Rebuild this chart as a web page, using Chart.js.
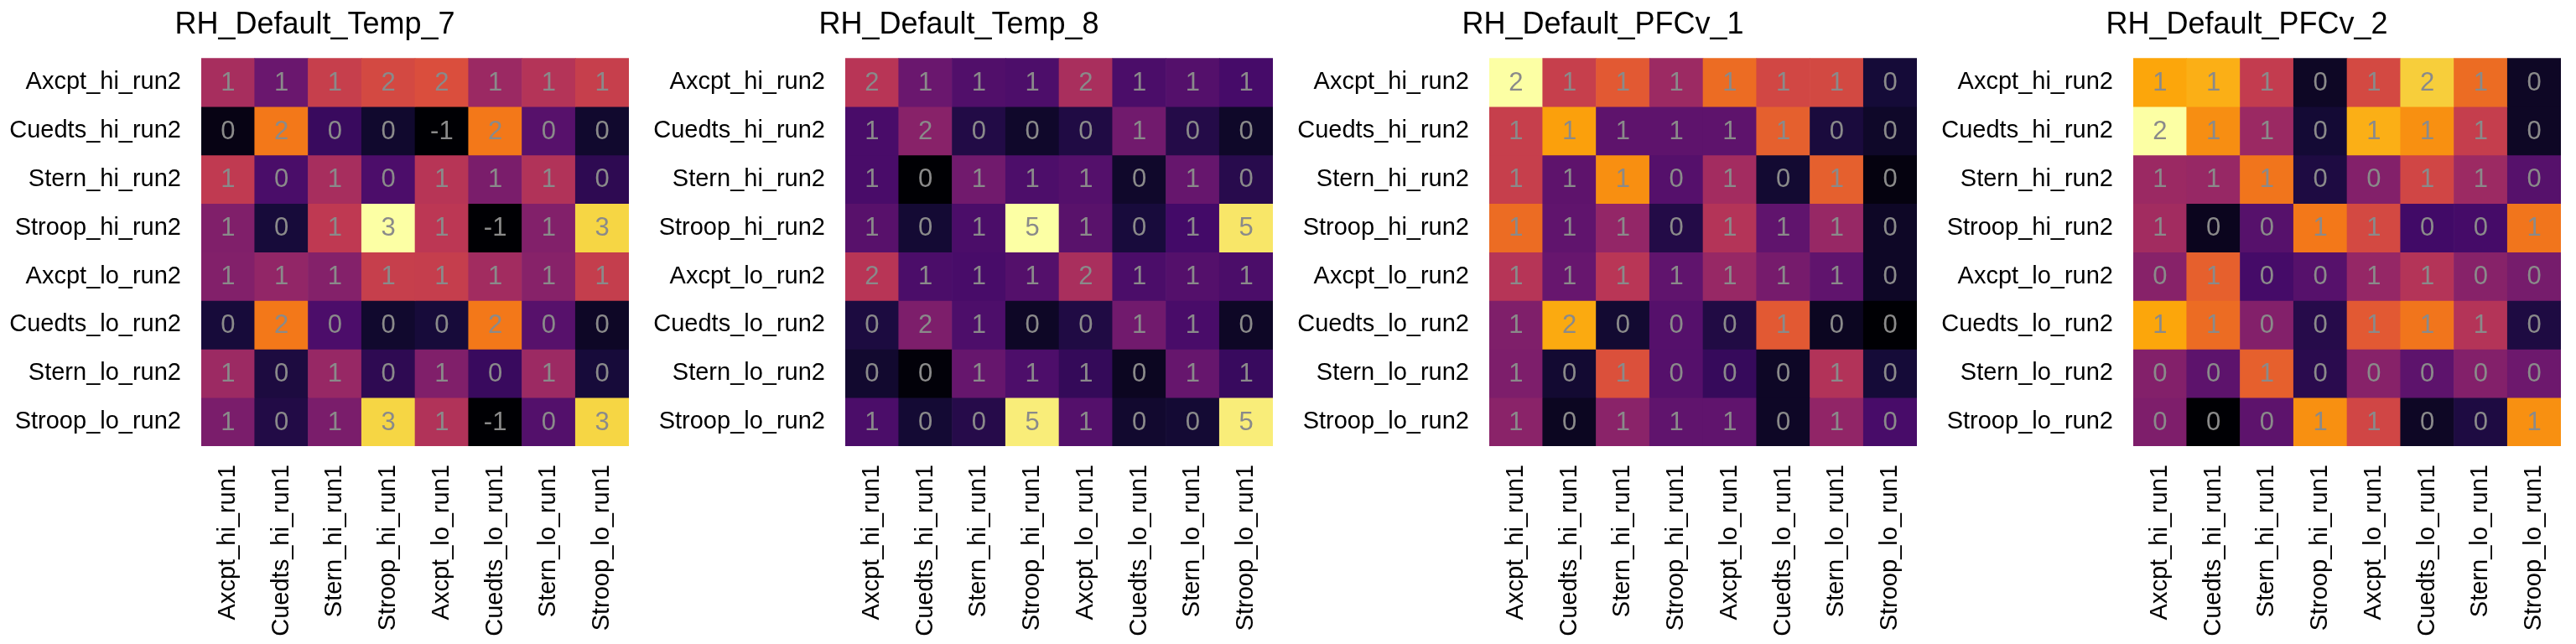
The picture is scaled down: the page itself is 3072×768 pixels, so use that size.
<!DOCTYPE html>
<html>
<head>
<meta charset="utf-8">
<script src="https://cdn.jsdelivr.net/npm/chart.js@4"></script>
<style>
  body { margin: 0; background: #fff; }
  #wrap { display: flex; width: 3072px; height: 768px; }
  .panel { width: 768px; height: 768px; position: relative; }
</style>
</head>
<body>
<div id="wrap">
  <div class="panel"><canvas id="c0"></canvas></div>
  <div class="panel"><canvas id="c1"></canvas></div>
  <div class="panel"><canvas id="c2"></canvas></div>
  <div class="panel"><canvas id="c3"></canvas></div>
</div>
<script>
// Heatmap data (rows = run2, cols = run1)

const rowLabels = ["Axcpt_hi_run2", "Cuedts_hi_run2", "Stern_hi_run2", "Stroop_hi_run2",
                   "Axcpt_lo_run2", "Cuedts_lo_run2", "Stern_lo_run2", "Stroop_lo_run2"];
const colLabels = ["Axcpt_hi_run1", "Cuedts_hi_run1", "Stern_hi_run1", "Stroop_hi_run1",
                   "Axcpt_lo_run1", "Cuedts_lo_run1", "Stern_lo_run1", "Stroop_lo_run1"];

const titles = ["RH_Default_Temp_7", "RH_Default_Temp_8", "RH_Default_PFCv_1", "RH_Default_PFCv_2"];

const temp7 = [
    [1.15, 0.57, 1.47, 1.62, 1.70, 1.04, 1.27, 1.47],
    [-0.48, 2.13, 0.10, -0.29, -0.60, 2.13, 0.38, -0.29],
    [1.40, 0.26, 1.15, 0.28, 1.30, 0.72, 1.25, 0.00],
    [0.78, -0.20, 1.38, 3.30, 1.35, -0.60, 0.80, 2.90],
    [0.80, 0.95, 0.82, 1.47, 1.46, 1.10, 0.85, 1.45],
    [-0.20, 2.13, 0.28, -0.29, -0.20, 2.13, 0.38, -0.35],
    [1.05, -0.15, 1.00, 0.00, 0.78, 0.10, 1.05, -0.20],
    [0.72, -0.10, 0.72, 2.90, 1.25, -0.60, 0.35, 2.90]
];

const temp8 = [
    [2.40, 1.35, 1.00, 0.95, 2.20, 0.93, 1.05, 0.85],
    [0.90, 1.75, 0.40, 0.10, 0.38, 1.45, 0.42, 0.08],
    [0.90, -0.30, 1.45, 0.95, 1.05, 0.10, 1.30, 0.48],
    [1.10, 0.20, 0.92, 5.20, 1.12, 0.28, 0.82, 4.85],
    [2.40, 0.93, 0.88, 1.05, 2.20, 0.93, 1.05, 0.93],
    [0.33, 1.60, 0.95, 0.05, 0.38, 1.45, 0.90, 0.05],
    [0.15, -0.25, 1.30, 0.95, 0.62, 0.00, 1.30, 0.68],
    [0.93, 0.20, 0.45, 4.95, 1.05, 0.15, 0.20, 4.95]
];

const pfcv1 = [
    [1.87, 1.00, 1.17, 0.80, 1.26, 1.06, 1.07, 0.20],
    [1.00, 1.48, 0.52, 0.52, 0.52, 1.20, 0.22, 0.15],
    [1.00, 0.52, 1.41, 0.48, 0.83, 0.18, 1.20, 0.06],
    [1.26, 0.53, 0.76, 0.26, 0.91, 0.53, 0.78, 0.14],
    [0.92, 0.56, 0.93, 0.53, 0.78, 0.63, 0.53, 0.14],
    [0.67, 1.52, 0.18, 0.48, 0.25, 1.17, 0.12, 0.02],
    [0.66, 0.18, 1.12, 0.48, 0.34, 0.14, 0.90, 0.20],
    [0.72, 0.12, 0.72, 0.53, 0.53, 0.14, 0.75, 0.42]
];

const pfcv2 = [
    [1.41, 1.45, 0.77, -0.27, 0.88, 1.59, 1.11, -0.27],
    [1.86, 1.29, 0.54, -0.20, 1.45, 1.30, 0.79, -0.27],
    [0.54, 0.52, 1.16, -0.14, 0.41, 0.86, 0.55, 0.16],
    [0.58, -0.30, 0.16, 1.18, 0.88, 0.04, 0.06, 1.16],
    [0.43, 1.04, 0.06, 0.16, 0.51, 0.68, 0.43, 0.34],
    [1.41, 1.11, 0.41, -0.10, 1.00, 1.16, 0.68, -0.14],
    [0.41, 0.20, 1.04, -0.08, 0.43, 0.20, 0.41, 0.29],
    [0.38, -0.41, 0.20, 1.30, 0.86, -0.27, -0.14, 1.30]
];

const panels = [temp7, temp8, pfcv1, pfcv2];

// inferno colormap stops
const inferno = ["#000004", "#160b39", "#420a68", "#6a176e", "#932667", "#bc3754",
                 "#dd513a", "#f37819", "#fca50a", "#f6d746", "#fcffa4"];

function hexToRgb(h) {
    return [parseInt(h.slice(1, 3), 16), parseInt(h.slice(3, 5), 16), parseInt(h.slice(5, 7), 16)];
}

function infernoColor(t) {
    t = Math.max(0, Math.min(1, t));
    const pos = t * (inferno.length - 1);
    const i = Math.min(Math.floor(pos), inferno.length - 2);
    const f = pos - i;
    const a = hexToRgb(inferno[i]), b = hexToRgb(inferno[i + 1]);
    const c = a.map((v, k) => Math.round(v + (b[k] - v) * f));
    return `rgb(${c[0]},${c[1]},${c[2]})`;
}

function cellText(v) {
    const r = Math.round(v);
    return String(r === 0 ? 0 : r);
}

const cellLabels = {
    id: "cellLabels",
    afterDatasetsDraw(chart) {
        const ctx = chart.ctx;
        ctx.save();
        ctx.font = "31px 'Liberation Sans', Arial, sans-serif";
        ctx.fillStyle = "#8a8a8a";
        ctx.textAlign = "center";
        ctx.textBaseline = "middle";
        chart.data.datasets.forEach((ds, di) => {
            const meta = chart.getDatasetMeta(di);
            meta.data.forEach((el, ci) => {
                ctx.fillText(cellText(ds.values[ci]), el.x, (el.y + el.base) / 2 + 1);
            });
        });
        ctx.restore();
    }
};

function drawPanel(canvasId, title, matrix) {
    const flat = matrix.flat();
    const vmin = Math.min(...flat), vmax = Math.max(...flat);

    const datasets = matrix.map((row, r) => ({
        data: row.map((v, c) => ({ x: colLabels[c], y: [r, r + 1] })),
        values: row,
        backgroundColor: row.map(v => infernoColor((v - vmin) / (vmax - vmin))),
        borderWidth: 0,
        barPercentage: 1,
        categoryPercentage: 1,
        grouped: false
    }));

    new Chart(document.getElementById(canvasId), {
        type: "bar",
        data: { labels: colLabels, datasets: datasets },
        options: {
            responsive: false,
            devicePixelRatio: 1,
            animation: false,
            layout: { padding: { left: 0, right: 17, top: 0, bottom: 0 } },
            plugins: {
                legend: { display: false },
                tooltip: { enabled: false },
                title: {
                    display: true,
                    text: title,
                    color: "#000",
                    font: { family: "'Liberation Sans', Arial, sans-serif", size: 36, weight: "normal" },
                    padding: { top: 8, bottom: 18 }
                }
            },
            scales: {
                x: {
                    grid: { display: false },
                    border: { display: false },
                    ticks: {
                        color: "#000",
                        font: { family: "'Liberation Sans', Arial, sans-serif", size: 29 },
                        minRotation: 90,
                        maxRotation: 90,
                        autoSkip: false,
                        padding: 14
                    },
                    afterFit(scale) { scale.height = 236; }
                },
                y: {
                    min: 0,
                    max: 8,
                    reverse: true,
                    grid: { display: false },
                    border: { display: false },
                    afterBuildTicks(scale) {
                        scale.ticks = rowLabels.map((_, i) => ({ value: i + 0.5 }));
                    },
                    ticks: {
                        color: "#000",
                        font: { family: "'Liberation Sans', Arial, sans-serif", size: 29 },
                        autoSkip: false,
                        padding: 16,
                        callback: (v) => rowLabels[Math.floor(v)]
                    },
                    afterFit(scale) { scale.width = 240; }
                }
            }
        },
        plugins: [cellLabels]
    });
}

panels.forEach((m, i) => {
    const cv = document.getElementById("c" + i);
    cv.width = 768;
    cv.height = 768;
    drawPanel("c" + i, titles[i], m);
});
</script>
</body>
</html>
